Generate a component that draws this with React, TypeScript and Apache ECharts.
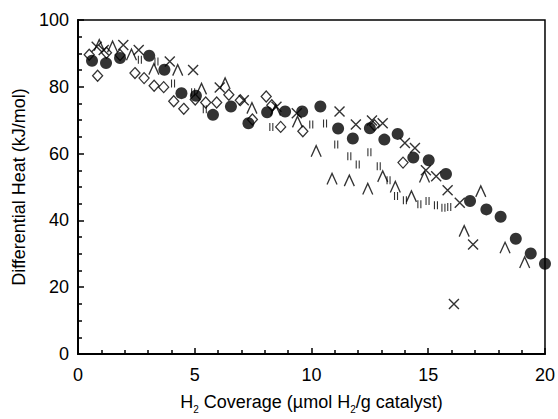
import React, { useEffect, useRef } from "react";
import * as echarts from "echarts";

const xTicks = [0, 5, 10, 15, 20];
const yTicks = [0, 20, 40, 60, 80, 100];

const circles: [number, number][] = [
  [0.6, 87.8], [1.2, 87.1], [1.8, 88.6], [3.05, 89.3], [3.7, 85.1], [4.43, 78.1],
  [5.05, 77.3], [5.78, 71.6], [6.55, 74.1], [7.3, 69.1], [8.1, 72.4], [8.87, 72.6],
  [9.6, 72.6], [10.38, 74.1], [11.14, 67.5], [11.77, 64.5], [12.5, 67.6], [13.12, 64.2],
  [13.69, 65.9], [14.36, 58.8], [15.02, 58.0], [15.76, 53.9], [16.79, 45.8], [17.49, 43.3],
  [18.1, 41.1], [18.75, 34.5], [19.39, 30.1], [20.0, 27.0],
];

const diamonds: [number, number][] = [
  [0.48, 89.6], [0.84, 83.3], [1.22, 90.2], [1.8, 89.5], [2.44, 84.1], [2.83, 82.6],
  [3.26, 80.3], [3.67, 79.9], [4.1, 75.7], [4.53, 73.4], [5.02, 76.2], [5.47, 75.3],
  [5.94, 75.3], [6.46, 77.6], [6.95, 76.0], [7.47, 70.2], [8.06, 77.1], [8.3, 74.5],
  [8.68, 68.0], [9.63, 66.7], [12.7, 68.5], [13.92, 57.3],
];

const triangles: [number, number][] = [
  [0.91, 92.5], [1.48, 92.0], [2.29, 89.6], [3.25, 85.3], [4.27, 85.0], [5.29, 79.4],
  [6.3, 81.0], [7.45, 73.6], [8.46, 73.0], [9.4, 69.5], [10.2, 60.7], [10.88, 52.4],
  [11.62, 51.9], [12.41, 49.4], [13.05, 53.2], [13.59, 50.0], [14.28, 47.2], [14.84, 53.0],
  [16.54, 36.8], [17.25, 48.7], [18.29, 31.8], [19.13, 27.4],
];

const crosses: [number, number][] = [
  [0.8, 92.0], [1.1, 91.0], [1.94, 92.5], [2.6, 91.0], [3.93, 87.6], [4.93, 85.0],
  [6.07, 79.8], [7.1, 76.0], [8.5, 74.0], [9.37, 72.1], [11.2, 72.6], [11.9, 68.7],
  [12.59, 69.9], [13.05, 69.1], [14.0, 63.2], [14.43, 61.7], [14.9, 55.0], [15.34, 53.2],
  [15.83, 49.0], [16.35, 45.3], [16.92, 32.8], [16.1, 15.0],
];

const squares: [number, number][] = [
  [2.65, 88.1], [3.36, 87.6], [4.07, 81.0], [4.93, 78.4], [5.43, 73.3], [8.28, 68.0],
  [9.99, 68.7], [10.58, 69.0], [11.06, 62.7], [11.62, 59.2], [11.98, 56.7], [12.48, 60.4],
  [12.88, 56.2], [13.3, 52.0], [13.62, 47.3], [14.0, 46.0], [14.62, 44.8], [14.97, 45.8],
  [15.33, 44.5], [15.65, 43.8], [15.9, 44.0],
];

const FONT = "'Liberation Sans', Arial, sans-serif";

export default function App() {
  const ref = useRef<HTMLDivElement>(null);
  useEffect(() => {
    if (!ref.current) return;
    const chart = echarts.init(ref.current, null, { renderer: "svg" });
    const strokeStyle = { color: "transparent", borderColor: "#000", borderWidth: 1.4 };
    chart.setOption({
      animation: false,
      backgroundColor: "#fff",
      grid: { left: 78, right: 12, top: 20, bottom: 64, show: true, borderColor: "#000", borderWidth: 1.5 },
      xAxis: {
        type: "value",
        min: xTicks[0],
        max: xTicks[xTicks.length - 1],
        interval: 5,
        name: "{a|H}{s|2}{a| Coverage (µmol H}{s|2}{a|/g catalyst)}",
        nameLocation: "middle",
        nameGap: 36,
        nameTextStyle: {
          rich: {
            a: { fontSize: 18, fontFamily: FONT, color: "#000", lineHeight: 24 },
            s: { fontSize: 10, fontFamily: FONT, color: "#000", lineHeight: 10, verticalAlign: "bottom" },
          },
        },
        axisLine: { lineStyle: { color: "#000", width: 2 } },
        axisTick: { inside: true, length: 6, lineStyle: { color: "#000", width: 1.5 } },
        minorTick: { show: true, splitNumber: 5, length: 4, lineStyle: { color: "#000", width: 1.5 } },
        splitLine: { show: false },
        axisLabel: { fontSize: 18, fontFamily: FONT, color: "#000", margin: 12 },
      },
      yAxis: {
        type: "value",
        min: yTicks[0],
        max: yTicks[yTicks.length - 1],
        interval: 20,
        name: "Differential Heat (kJ/mol)",
        nameLocation: "middle",
        nameGap: 34,
        nameTextStyle: { fontSize: 18, fontFamily: FONT, color: "#000" },
        axisLine: { lineStyle: { color: "#000", width: 2 } },
        axisTick: { inside: true, length: 6, lineStyle: { color: "#000", width: 1.5 } },
        minorTick: { show: true, splitNumber: 4, length: 4, lineStyle: { color: "#000", width: 1.5 } },
        splitLine: { show: false },
        axisLabel: { fontSize: 18, fontFamily: FONT, color: "#000", margin: 9 },
      },
      series: [
        {
          type: "scatter",
          data: diamonds,
          symbol: "diamond",
          symbolSize: [10, 11],
          itemStyle: { color: "#fff", borderColor: "#000", borderWidth: 1.3 },
        },
        {
          type: "scatter",
          data: squares,
          symbol: "path://M0,0L0,10M6,0L6,10",
          symbolKeepAspect: true,
          symbolSize: [5, 8],
          itemStyle: strokeStyle,
        },
        {
          type: "scatter",
          data: triangles,
          symbol: "path://M0,10L5,0L10,10",
          symbolKeepAspect: true,
          symbolSize: [10, 11],
          itemStyle: strokeStyle,
        },
        {
          type: "scatter",
          data: crosses,
          symbol: "path://M0,0L10,10M10,0L0,10",
          symbolKeepAspect: true,
          symbolSize: 10,
          itemStyle: strokeStyle,
        },
        {
          type: "scatter",
          data: circles,
          symbol: "circle",
          symbolSize: 12,
          itemStyle: { color: "#000" },
        },
      ],
    });
    return () => chart.dispose();
  }, []);
  return <div ref={ref} style={{ width: 558, height: 419, position: "absolute", left: 0, top: 0 }} />;
}
